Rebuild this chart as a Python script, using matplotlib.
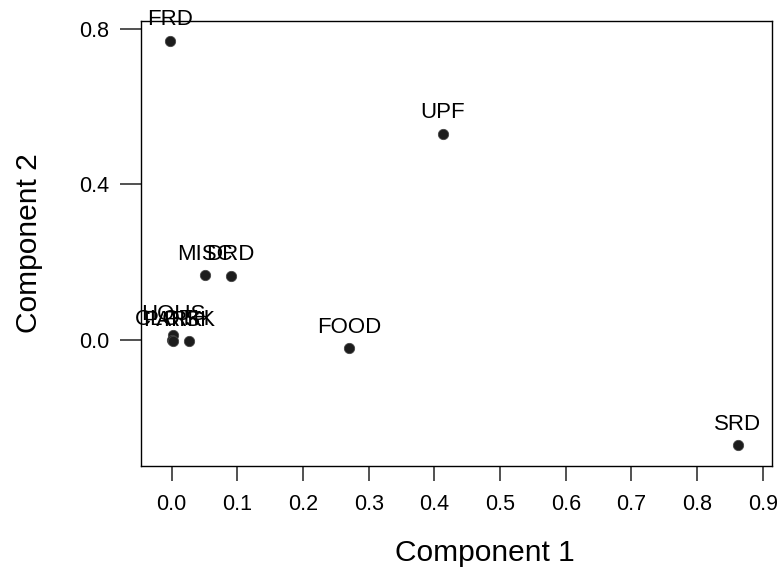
import numpy as np
import matplotlib
matplotlib.use('Agg')
import matplotlib.pyplot as plt

# ---   DATA   --- #
LABELS = ['FRD', 'UPF', 'MISC', 'DRD', 'FOOD', 'SRD',
          'HOUS', 'CLOTH', 'PARK', 'RISK']
COMP1 = [-0.003, 0.413, 0.051, 0.090, 0.270, 0.862,
         0.002, 0.001, 0.002, 0.026]
COMP2 = [0.769, 0.530, 0.167, 0.165, -0.021, -0.270,
         0.012, 0.000, -0.003, -0.003]
XTICKS = [0.0, 0.1, 0.2, 0.3, 0.4, 0.5, 0.6, 0.7, 0.8, 0.9]
YTICKS = [0.0, 0.4, 0.8]

plt.rcParams['font.family'] = ['Liberation Sans', 'DejaVu Sans']

fig = plt.figure(figsize=(7.8, 5.7), dpi=100)
ax = fig.add_axes([0.1808, 0.1825, 0.8089, 0.7807])

ax.scatter(COMP1, COMP2, s=55, color='#1c1c1c', edgecolors='#444444',
           linewidths=0.6, zorder=3)
for lab, x, y in zip(LABELS, COMP1, COMP2):
    ax.annotate(lab, (x, y), xytext=(0, 15), textcoords='offset points',
                ha='center', va='center', fontsize=16, color='black',
                annotation_clip=False, zorder=4)

ax.set_xlim(-0.0467, 0.914)
ax.set_ylim(-0.324, 0.820)
ax.set_xticks(XTICKS)
ax.set_xticklabels([f'{t:.1f}' for t in XTICKS])
ax.set_yticks(YTICKS)
ax.set_yticklabels([f'{t:.1f}' for t in YTICKS])

ax.tick_params(axis='x', length=11, width=1.2, color='#333333', pad=9,
               labelsize=15.5)
ax.tick_params(axis='y', length=15, width=1.2, color='#333333', pad=8,
               labelsize=15.5)
for side in ['top', 'bottom', 'left', 'right']:
    ax.spines[side].set_linewidth(1.0)

ax.set_xlabel('Component 1', fontsize=21.5, labelpad=34)
ax.xaxis.set_label_coords(0.545, -0.165)
ax.set_ylabel('Component 2', fontsize=21.5, labelpad=26)

fig.savefig('out.png', dpi=100)
